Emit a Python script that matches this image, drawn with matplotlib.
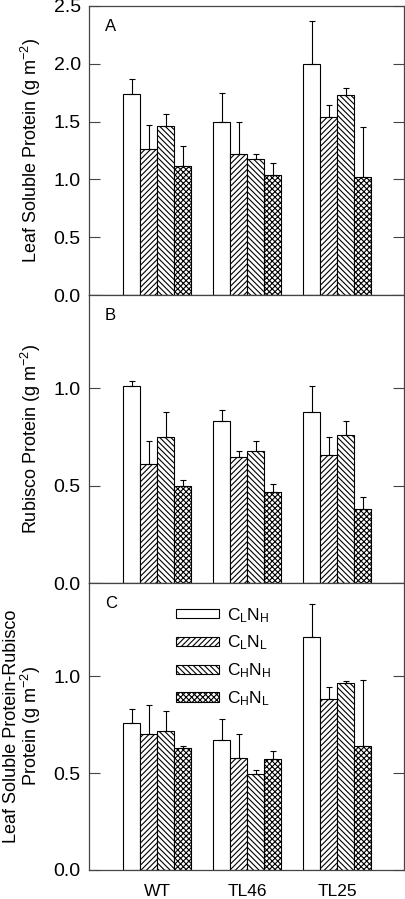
import matplotlib
matplotlib.use("Agg")
import matplotlib.pyplot as plt
import numpy as np
from matplotlib.patches import Patch

plt.rcParams['font.family'] = ['Liberation Sans', 'DejaVu Sans']
plt.rcParams['hatch.linewidth'] = 0.8

genotypes = ["WT", "TL46", "TL25"]
treatments = [r"$\mathregular{C_LN_H}$", r"$\mathregular{C_LN_L}$",
              r"$\mathregular{C_HN_H}$", r"$\mathregular{C_HN_L}$"]
hatches = ["", "//////", "\\\\\\\\\\\\", "xxxxxx"]

# rows = genotype, columns = treatment (CLNH, CLNL, CHNH, CHNL)
soluble_mean = [[1.74, 1.26, 1.46, 1.12],
                [1.50, 1.22, 1.18, 1.04],
                [2.00, 1.54, 1.73, 1.02]]
soluble_err = [[0.13, 0.21, 0.11, 0.17],
               [0.25, 0.28, 0.04, 0.10],
               [0.37, 0.10, 0.06, 0.43]]

rubisco_mean = [[1.01, 0.61, 0.75, 0.50],
                [0.83, 0.65, 0.68, 0.47],
                [0.88, 0.66, 0.76, 0.38]]
rubisco_err = [[0.03, 0.12, 0.13, 0.03],
               [0.06, 0.03, 0.05, 0.04],
               [0.13, 0.09, 0.07, 0.06]]

diff_mean = [[0.76, 0.70, 0.715, 0.63],
             [0.67, 0.58, 0.495, 0.57],
             [1.20, 0.88, 0.965, 0.64]]
diff_err = [[0.07, 0.15, 0.105, 0.012],
            [0.11, 0.12, 0.022, 0.043],
            [0.17, 0.065, 0.012, 0.34]]

panels = [
    ("A", soluble_mean, soluble_err, 2.5, [0, 0.5, 1.0, 1.5, 2.0, 2.5],
     r"Leaf Soluble Protein (g m$^{\mathregular{-2}}$)"),
    ("B", rubisco_mean, rubisco_err, 1.48, [0, 0.5, 1.0],
     r"Rubisco Protein (g m$^{\mathregular{-2}}$)"),
    ("C", diff_mean, diff_err, 1.48, [0, 0.5, 1.0],
     "Leaf Soluble Protein-Rubisco\n" + r"Protein (g m$^{\mathregular{-2}}$)"),
]

fig = plt.figure(figsize=(4.05, 8.99), dpi=100)
W, H = 405, 899
left, right = 89, 404
edges = [6, 295, 583, 870]

w = 0.189
x = np.arange(1, len(genotypes) + 1)
spine_col = "#444444"

for i, (letter, mean, err, ytop, yticks, ylabel) in enumerate(panels):
    top, bottom = edges[i], edges[i + 1]
    ax = fig.add_axes([left / W, (H - bottom) / H, (right - left) / W, (bottom - top) / H])
    mean = np.array(mean)
    err = np.array(err)
    for j in range(len(treatments)):
        xs = x + (j - 1.5) * w
        ax.bar(xs, mean[:, j], width=w, color="white", edgecolor="black",
               linewidth=0.8, hatch=hatches[j], zorder=2)
        ax.errorbar(xs, mean[:, j], yerr=[np.zeros(len(x)), err[:, j]],
                    fmt="none", ecolor="black", elinewidth=0.8,
                    capsize=2.5, capthick=0.8, zorder=3)
    ax.set_xlim(0.244, 3.744)
    ax.set_ylim(0, ytop)
    ax.set_yticks(yticks)
    ax.set_yticklabels([f"{t:.1f}" for t in yticks])
    ax.set_xticks(x)
    if i == 2:
        ax.set_xticklabels(genotypes, fontsize=12.5)
    else:
        ax.set_xticklabels([])
    ax.tick_params(axis="y", direction="in", length=8, width=0.8, labelsize=14,
                   right=True, pad=6, color=spine_col)
    ax.tick_params(axis="x", direction="in", length=4, width=0.8, pad=10, color=spine_col)
    for s in ax.spines.values():
        s.set_color(spine_col)
        s.set_linewidth(0.9)
    ax.set_ylabel(ylabel, fontsize=13, linespacing=0.95)
    ax.yaxis.set_label_coords(-0.145, 0.5)
    ax.text(0.05, 0.928, letter, transform=ax.transAxes, fontsize=12,
            ha="left", va="center")

    if i == 2:
        handles = [Patch(facecolor="white", edgecolor="black", linewidth=0.8, hatch=h)
                   for h in hatches]
        ax.legend(handles, treatments, loc="upper left", bbox_to_anchor=(0.276, 0.92),
                  frameon=False, fontsize=12.5, handlelength=2.5, handleheight=0.45,
                  labelspacing=0.52, handletextpad=0.45, borderpad=0, borderaxespad=0)

fig.savefig("out.png", dpi=100)
